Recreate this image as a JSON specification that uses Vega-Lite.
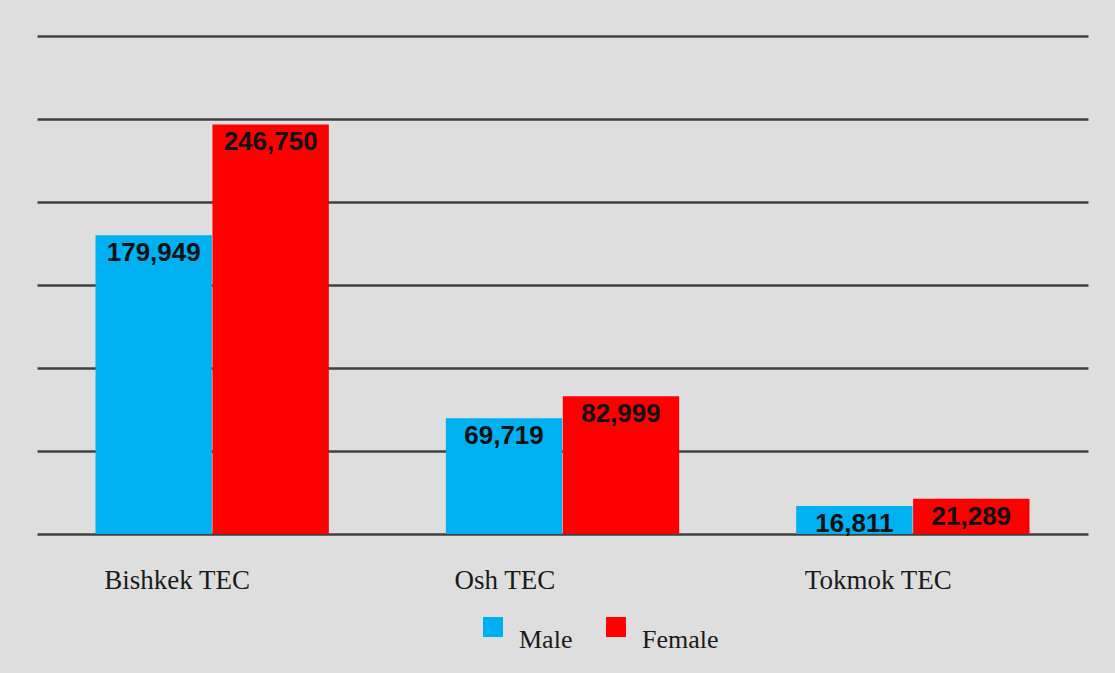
{
  "$schema": "https://vega.github.io/schema/vega-lite/v6.json",
  "width": 1051,
  "height": 498,
  "padding": {"left": 37, "top": 36, "right": 27, "bottom": 20},
  "background": "#dedede",
  "config": {"view": {"stroke": null}},
  "data": {
    "values": [
      {"plant": "Bishkek TEC", "gender": "Male", "value": 179949},
      {"plant": "Bishkek TEC", "gender": "Female", "value": 246750},
      {"plant": "Osh TEC", "gender": "Male", "value": 69719},
      {"plant": "Osh TEC", "gender": "Female", "value": 82999},
      {"plant": "Tokmok TEC", "gender": "Male", "value": 16811},
      {"plant": "Tokmok TEC", "gender": "Female", "value": 21289}
    ]
  },
  "encoding": {
    "x": {
      "field": "plant",
      "type": "nominal",
      "sort": null,
      "title": null,
      "scale": {"paddingInner": 0.334, "paddingOuter": 0.167},
      "axis": {
        "domain": false,
        "ticks": false,
        "labelAngle": 0,
        "labelFont": "Liberation Serif",
        "labelFontSize": 27,
        "labelColor": "#1a1a1a",
        "labelAlign": "left",
        "labelBaseline": "alphabetic",
        "labelOffset": -108,
        "labelPadding": 54
      }
    },
    "xOffset": {"field": "gender", "sort": ["Male", "Female"], "scale": {"paddingInner": 0.005}},
    "y": {
      "field": "value",
      "type": "quantitative",
      "title": null,
      "scale": {"domain": [0, 300000]},
      "axis": {
        "values": [0, 50000, 100000, 150000, 200000, 250000, 300000],
        "labels": false,
        "ticks": false,
        "domain": false,
        "grid": true,
        "gridColor": "#404040",
        "gridWidth": 2.5,
        "gridOpacity": 1
      }
    }
  },
  "layer": [
    {
      "mark": {"type": "bar"},
      "encoding": {
        "color": {
          "field": "gender",
          "type": "nominal",
          "sort": ["Male", "Female"],
          "scale": {"domain": ["Male", "Female"], "range": ["#00B0F0", "#FF0000"]},
          "legend": {
            "orient": "none",
            "legendX": 443,
            "legendY": 578,
            "direction": "horizontal",
            "title": null,
            "symbolType": "square",
            "symbolSize": 400,
            "symbolStrokeWidth": 0,
            "labelFont": "Liberation Serif",
            "labelFontSize": 26,
            "labelColor": "#1a1a1a",
            "labelOffset": 13,
            "labelBaseline": "top",
            "columnPadding": 30
          }
        }
      }
    },
    {
      "mark": {
        "type": "text",
        "baseline": "alphabetic",
        "dy": 26,
        "font": "Liberation Sans",
        "fontWeight": "bold",
        "fontSize": 26,
        "color": "#111111"
      },
      "encoding": {
        "text": {"field": "value", "type": "quantitative", "format": ","}
      }
    }
  ]
}
